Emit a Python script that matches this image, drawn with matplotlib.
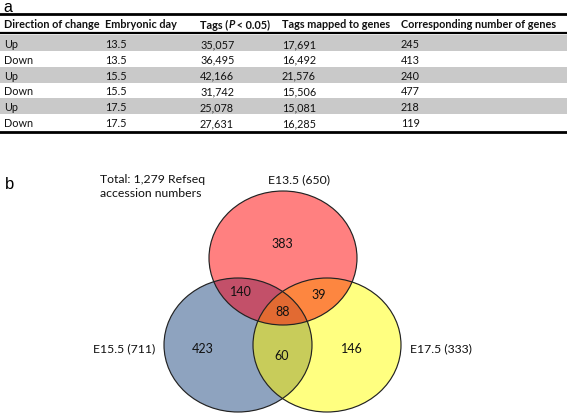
import numpy as np
import matplotlib
matplotlib.use("Agg")
import matplotlib.pyplot as plt
from matplotlib.patches import Ellipse, Polygon, Rectangle

# =====================================
# DATA
# =====================================

headers = ["Direction of change", "Embryonic day", "Tags (P < 0.05)",
           "Tags mapped to genes", "Corresponding number of genes"]
direction = ["Up", "Down", "Up", "Down", "Up", "Down"]
emb_day = ["13.5", "13.5", "15.5", "15.5", "17.5", "17.5"]
tags = ["35,057", "36,495", "42,166", "31,742", "25,078", "27,631"]
tags_mapped = ["17,691", "16,492", "21,576", "15,506", "15,081", "16,285"]
n_genes = ["245", "413", "240", "477", "218", "119"]

set_names = ["E13.5 (650)", "E15.5 (711)", "E17.5 (333)"]
only_counts = [383, 423, 146]          # E13.5 only, E15.5 only, E17.5 only
pair_counts = [140, 39, 60]            # 13.5&15.5, 13.5&17.5, 15.5&17.5
triple_count = 88
total_note = "Total: 1,279 Refseq\naccession numbers"

# =====================================
# LAYOUT (pixel coords, y down)
# =====================================

W, H = 567, 414
FONT = "Lato"
TFS = 7.8
col_x = [4, 105, 200, 282, 401]
header_y = 25
row_y0 = 44.5
row_h = 15.8

RX, RY = 74, 67
centers = {"red": (283, 259), "blue": (238, 346), "yellow": (327, 346)}
fills = {"red": "#ff8080", "blue": "#8ea3bf", "yellow": "#ffff80"}
pair_cols = {("red", "blue"): "#c35069", ("red", "yellow"): "#fd8640",
             ("blue", "yellow"): "#c8cc5a"}
triple_col = "#e26a32"

fig = plt.figure(figsize=(W / 100, H / 100), dpi=100)
ax = fig.add_axes([0, 0, 1, 1])
ax.set_xlim(0, W)
ax.set_ylim(H, 0)
ax.axis("off")

# =====================================
# TABLE (panel a)
# =====================================

ax.text(3, 7, "a", fontsize=11.5, family="Liberation Sans", va="center")

for i in range(len(direction)):
    yc = row_y0 + i * row_h
    if direction[i] == "Up":
        ax.add_patch(Rectangle((0, yc - row_h / 2 - 0.5), W, row_h,
                               color="#c9c9c9", lw=0, zorder=0))
    row = [direction[i], emb_day[i], tags[i], tags_mapped[i], n_genes[i]]
    for x, s in zip(col_x, row):
        ax.text(x, yc, s, fontsize=TFS, family=FONT, va="center", color="#111")

ax.plot([0, W], [14.5, 14.5], color="black", lw=2.0)
ax.plot([0, W], [34, 34], color="black", lw=1.6)
ax.plot([0, W], [133, 133], color="black", lw=2.0)

renderer = fig.canvas.get_renderer()
inv = ax.transData.inverted()


def text_parts(x, y, parts):
    for s, style in parts:
        t = ax.text(x, y, s, fontsize=TFS, family=FONT, fontweight="bold",
                    fontstyle=style, va="center", color="#111")
        bb = t.get_window_extent(renderer)
        x = inv.transform((bb.x1, 0))[0]


for j, (x, s) in enumerate(zip(col_x, headers)):
    if "P" in s:
        a, b = s.split("P")
        text_parts(x, header_y, [(a, "normal"), ("P", "italic"), (b, "normal")])
    else:
        text_parts(x, header_y, [(s, "normal")])

# =====================================
# VENN (panel b)
# =====================================


def ellipse_pts(c, n=360):
    t = np.linspace(0, 2 * np.pi, n, endpoint=False)
    return np.column_stack([c[0] + RX * np.cos(t), c[1] + RY * np.sin(t)])


def clip_poly(subject, clip):
    # Sutherland-Hodgman, both convex and counter-clockwise
    def inside(p, a, b):
        return (b[0] - a[0]) * (p[1] - a[1]) - (b[1] - a[1]) * (p[0] - a[0]) >= 0

    def intersect(p, q, a, b):
        d1 = q - p
        d2 = b - a
        den = d1[0] * d2[1] - d1[1] * d2[0]
        s = ((a[0] - p[0]) * d2[1] - (a[1] - p[1]) * d2[0]) / den
        return p + s * d1

    out = list(subject)
    for k in range(len(clip)):
        a, b = clip[k - 1], clip[k]
        inp = out
        out = []
        for m in range(len(inp)):
            p, q = inp[m - 1], inp[m]
            if inside(q, a, b):
                if not inside(p, a, b):
                    out.append(intersect(p, q, a, b))
                out.append(q)
            elif inside(p, a, b):
                out.append(intersect(p, q, a, b))
        if not out:
            break
    return np.array(out)


pts = {k: ellipse_pts(c) for k, c in centers.items()}

for k in ["blue", "yellow", "red"]:
    ax.add_patch(Ellipse(centers[k], 2 * RX, 2 * RY, facecolor=fills[k],
                         edgecolor="none", zorder=1))
for (k1, k2), col in pair_cols.items():
    ax.add_patch(Polygon(clip_poly(pts[k1], pts[k2]), closed=True,
                         facecolor=col, edgecolor="none", zorder=2))
tri = clip_poly(clip_poly(pts["red"], pts["blue"]), pts["yellow"])
ax.add_patch(Polygon(tri, closed=True, facecolor=triple_col,
                     edgecolor="none", zorder=3))
for k in ["blue", "yellow", "red"]:
    ax.add_patch(Ellipse(centers[k], 2 * RX, 2 * RY, facecolor="none",
                         edgecolor="#222222", lw=0.85, zorder=4))

num_kw = dict(fontsize=9, family=FONT, ha="center", va="center",
              color="#111", zorder=5)
only_pos = [(282, 244), (203, 349), (352, 349)]
pair_pos = [(241, 292), (319, 295), (282, 356)]
for (x, y), v in zip(only_pos, only_counts):
    ax.text(x, y, str(v), **num_kw)
for (x, y), v in zip(pair_pos, pair_counts):
    ax.text(x, y, str(v), **num_kw)
ax.text(283, 312, str(triple_count), **num_kw)

lab_kw = dict(fontsize=8.8, family=FONT, va="center", color="#111")
ax.text(299, 180, set_names[0], ha="center", **lab_kw)
ax.text(155, 349, set_names[1], ha="right", **lab_kw)
ax.text(410, 349, set_names[2], ha="left", **lab_kw)
ax.text(100, 186.5, total_note, ha="left", linespacing=1.25, **lab_kw)

ax.text(5, 185, "b", fontsize=12, family="Liberation Sans", va="center")

fig.savefig("out.png", dpi=100)
